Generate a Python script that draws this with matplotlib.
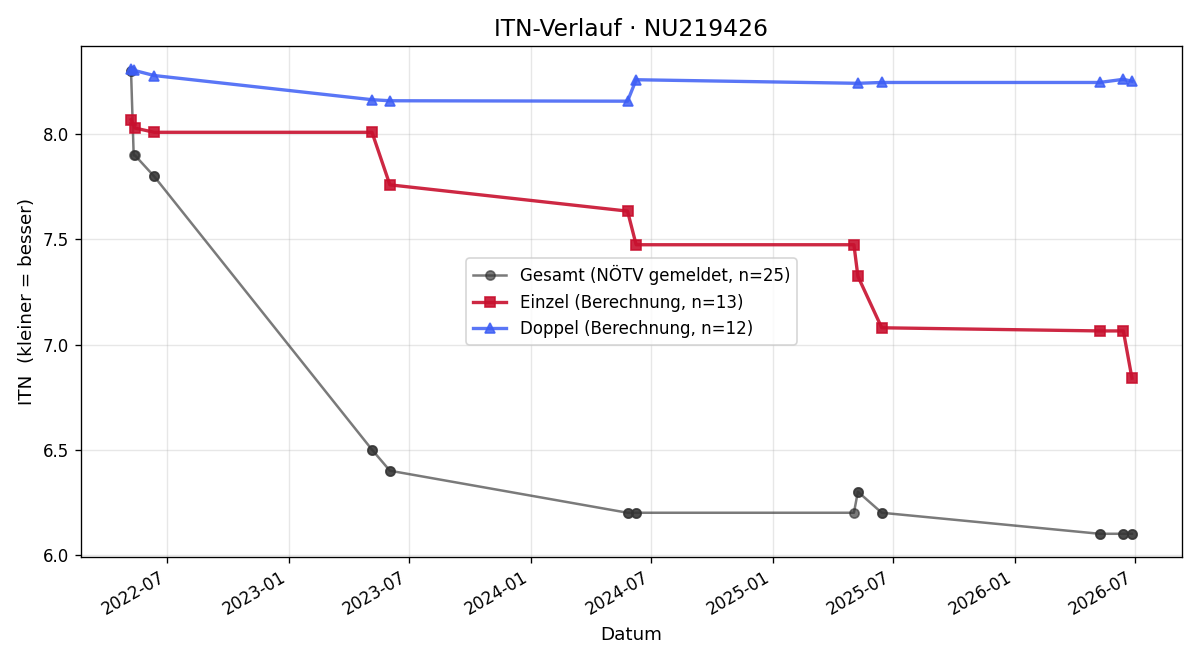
import matplotlib
matplotlib.use("Agg")
import matplotlib.pyplot as plt
import matplotlib.dates as mdates
import pandas as pd

gesamt_dates = ["2022-05-07", "2022-05-07", "2022-05-11", "2022-05-13", "2022-06-11", "2022-06-11",
                "2023-05-06", "2023-05-06", "2023-06-02", "2023-06-02",
                "2024-05-26", "2024-05-26", "2024-06-08", "2024-06-08",
                "2025-05-03", "2025-05-09", "2025-05-09", "2025-06-14", "2025-06-14",
                "2026-05-09", "2026-05-09", "2026-06-14", "2026-06-14", "2026-06-27", "2026-06-27"]
gesamt_vals = [8.3, 8.3, 7.9, 7.9, 7.8, 7.8,
               6.5, 6.5, 6.4, 6.4,
               6.2, 6.2, 6.2, 6.2,
               6.2, 6.3, 6.3, 6.2, 6.2,
               6.1, 6.1, 6.1, 6.1, 6.1, 6.1]

einzel_dates = ["2022-05-07", "2022-05-13", "2022-06-11", "2023-05-06", "2023-06-02",
                "2024-05-26", "2024-06-08", "2025-05-03", "2025-05-09", "2025-06-14",
                "2026-05-09", "2026-06-14", "2026-06-27"]
einzel_vals = [8.07, 8.03, 8.01, 8.01, 7.76, 7.635, 7.475, 7.475, 7.325, 7.08, 7.065, 7.065, 6.84]

doppel_dates = ["2022-05-07", "2022-05-11", "2022-06-11", "2023-05-06", "2023-06-02",
                "2024-05-26", "2024-06-08", "2025-05-09", "2025-06-14",
                "2026-05-09", "2026-06-14", "2026-06-27"]
doppel_vals = [8.31, 8.305, 8.28, 8.165, 8.16, 8.158, 8.26, 8.243, 8.247, 8.247, 8.262, 8.253]

fig, ax = plt.subplots(figsize=(10, 5.5), dpi=120)
fig.subplots_adjust(left=81/1200, right=1182/1200, top=1-46/660, bottom=1-557/660)

ax.plot(pd.to_datetime(gesamt_dates), gesamt_vals, marker="o", color="#333333", alpha=0.65,
        linewidth=1.5, markersize=5.5, label=f"Gesamt (NÖTV gemeldet, n={len(gesamt_vals)})")
ax.plot(pd.to_datetime(einzel_dates), einzel_vals, marker="s", color="#c8102e", alpha=0.9,
        linewidth=2, markersize=6, label=f"Einzel (Berechnung, n={len(einzel_vals)})")
ax.plot(pd.to_datetime(doppel_dates), doppel_vals, marker="^", color="#3d5ef5", alpha=0.85,
        linewidth=2, markersize=6, label=f"Doppel (Berechnung, n={len(doppel_vals)})")

ax.set_title("ITN-Verlauf · NU219426", fontsize=14)
ax.set_xlabel("Datum", fontsize=11)
ax.set_ylabel("ITN  (kleiner = besser)", fontsize=11)
ax.grid(True, alpha=0.3)
ax.legend(loc="center", fontsize=10)
ax.xaxis.set_major_locator(mdates.MonthLocator(bymonth=[1, 7]))
ax.xaxis.set_major_formatter(mdates.DateFormatter("%Y-%m"))
for lbl in ax.get_xticklabels():
    lbl.set_rotation(30)
    lbl.set_ha("right")
fig.savefig("out.png", dpi=120)
